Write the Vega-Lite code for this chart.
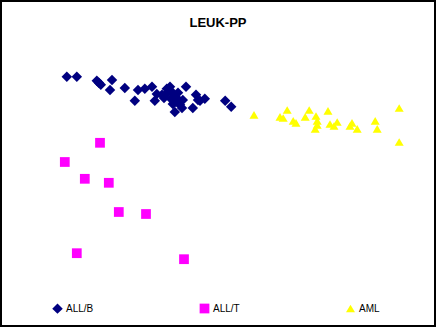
{
  "$schema": "https://vega.github.io/schema/vega-lite/v6.json",
  "width": 436,
  "height": 327,
  "autosize": {"type": "fit", "contains": "padding"},
  "padding": 0,
  "background": "white",
  "title": {
    "text": "LEUK-PP",
    "offset": -40,
    "baseline": "alphabetic",
    "anchor": "middle",
    "font": "Liberation Sans",
    "fontSize": 13,
    "fontWeight": "bold",
    "color": "black"
  },
  "config": {
    "view": {"stroke": "black", "strokeWidth": 4},
    "legend": {"padding": 0}
  },
  "data": {
    "values": [
      {"group": "ALL/B", "pc1": -3.78, "pc2": 3.08},
      {"group": "ALL/B", "pc1": -3.53, "pc2": 3.08},
      {"group": "ALL/B", "pc1": -3.03, "pc2": 2.98},
      {"group": "ALL/B", "pc1": -2.93, "pc2": 2.88},
      {"group": "ALL/B", "pc1": -2.98, "pc2": 2.93},
      {"group": "ALL/B", "pc1": -2.65, "pc2": 3.0},
      {"group": "ALL/B", "pc1": -2.7, "pc2": 2.75},
      {"group": "ALL/B", "pc1": -2.33, "pc2": 2.8},
      {"group": "ALL/B", "pc1": -2.0, "pc2": 2.75},
      {"group": "ALL/B", "pc1": -2.08, "pc2": 2.48},
      {"group": "ALL/B", "pc1": -1.83, "pc2": 2.78},
      {"group": "ALL/B", "pc1": -1.65, "pc2": 2.83},
      {"group": "ALL/B", "pc1": -1.58, "pc2": 2.48},
      {"group": "ALL/B", "pc1": -1.53, "pc2": 2.65},
      {"group": "ALL/B", "pc1": -1.4, "pc2": 2.63},
      {"group": "ALL/B", "pc1": -1.28, "pc2": 2.78},
      {"group": "ALL/B", "pc1": -1.2, "pc2": 2.83},
      {"group": "ALL/B", "pc1": -1.3, "pc2": 2.65},
      {"group": "ALL/B", "pc1": -1.15, "pc2": 2.7},
      {"group": "ALL/B", "pc1": -1.1, "pc2": 2.58},
      {"group": "ALL/B", "pc1": -1.03, "pc2": 2.55},
      {"group": "ALL/B", "pc1": -1.18, "pc2": 2.53},
      {"group": "ALL/B", "pc1": -1.05, "pc2": 2.45},
      {"group": "ALL/B", "pc1": -0.95, "pc2": 2.38},
      {"group": "ALL/B", "pc1": -0.9, "pc2": 2.3},
      {"group": "ALL/B", "pc1": -1.0, "pc2": 2.68},
      {"group": "ALL/B", "pc1": -0.88, "pc2": 2.5},
      {"group": "ALL/B", "pc1": -0.8, "pc2": 2.83},
      {"group": "ALL/B", "pc1": -1.08, "pc2": 2.2},
      {"group": "ALL/B", "pc1": -0.55, "pc2": 2.63},
      {"group": "ALL/B", "pc1": -0.63, "pc2": 2.3},
      {"group": "ALL/B", "pc1": -0.45, "pc2": 2.48},
      {"group": "ALL/B", "pc1": -0.33, "pc2": 2.53},
      {"group": "ALL/B", "pc1": -0.5, "pc2": 2.5},
      {"group": "ALL/B", "pc1": 0.18, "pc2": 2.48},
      {"group": "ALL/B", "pc1": 0.33, "pc2": 2.33},
      {"group": "ALL/B", "pc1": -1.35, "pc2": 2.55},
      {"group": "ALL/B", "pc1": -1.13, "pc2": 2.4},
      {"group": "ALL/T", "pc1": -2.95, "pc2": 1.43},
      {"group": "ALL/T", "pc1": -3.83, "pc2": 0.95},
      {"group": "ALL/T", "pc1": -3.33, "pc2": 0.53},
      {"group": "ALL/T", "pc1": -2.73, "pc2": 0.43},
      {"group": "ALL/T", "pc1": -2.48, "pc2": -0.3},
      {"group": "ALL/T", "pc1": -1.8, "pc2": -0.35},
      {"group": "ALL/T", "pc1": -3.53, "pc2": -1.33},
      {"group": "ALL/T", "pc1": -0.85, "pc2": -1.48},
      {"group": "AML", "pc1": 0.9, "pc2": 2.13},
      {"group": "AML", "pc1": 1.55, "pc2": 2.08},
      {"group": "AML", "pc1": 1.63, "pc2": 2.05},
      {"group": "AML", "pc1": 1.73, "pc2": 2.25},
      {"group": "AML", "pc1": 1.88, "pc2": 1.98},
      {"group": "AML", "pc1": 1.95, "pc2": 1.93},
      {"group": "AML", "pc1": 2.18, "pc2": 2.08},
      {"group": "AML", "pc1": 2.28, "pc2": 2.25},
      {"group": "AML", "pc1": 2.45, "pc2": 2.1},
      {"group": "AML", "pc1": 2.48, "pc2": 1.98},
      {"group": "AML", "pc1": 2.43, "pc2": 1.78},
      {"group": "AML", "pc1": 2.48, "pc2": 1.88},
      {"group": "AML", "pc1": 2.75, "pc2": 2.23},
      {"group": "AML", "pc1": 2.8, "pc2": 1.9},
      {"group": "AML", "pc1": 2.98, "pc2": 1.95},
      {"group": "AML", "pc1": 2.9, "pc2": 1.85},
      {"group": "AML", "pc1": 3.35, "pc2": 1.93},
      {"group": "AML", "pc1": 3.3, "pc2": 1.85},
      {"group": "AML", "pc1": 3.48, "pc2": 1.78},
      {"group": "AML", "pc1": 3.93, "pc2": 1.98},
      {"group": "AML", "pc1": 3.98, "pc2": 1.78},
      {"group": "AML", "pc1": 4.53, "pc2": 2.3},
      {"group": "AML", "pc1": 4.53, "pc2": 1.45}
    ]
  },
  "mark": {"type": "point", "filled": true, "opacity": 1, "strokeWidth": 0},
  "encoding": {
    "x": {"field": "pc1", "type": "quantitative", "axis": null,
          "scale": {"domain": [-5.45, 5.45], "nice": false, "zero": false}},
    "y": {"field": "pc2", "type": "quantitative", "axis": null,
          "scale": {"domain": [-3.175, 5.0], "nice": false, "zero": false}},
    "color": {"field": "group", "type": "nominal",
              "scale": {"domain": ["ALL/B", "ALL/T", "AML"], "range": ["#000080", "#FF00FF", "#FFFF00"]},
              "legend": {"title": null, "orient": "none", "legendX": 52, "legendY": 303,
                         "direction": "horizontal", "columns": 3, "columnPadding": 105,
                         "labelFont": "Liberation Sans", "labelFontSize": 10, "labelColor": "black",
                         "labelOffset": 3, "symbolStrokeWidth": 0}},
    "shape": {"field": "group", "type": "nominal",
              "scale": {"domain": ["ALL/B", "ALL/T", "AML"], "range": ["diamond", "square", "triangle-up"]}},
    "size": {"field": "group", "type": "nominal",
             "scale": {"domain": ["ALL/B", "ALL/T", "AML"], "range": [110, 80, 130]}}
  }
}
